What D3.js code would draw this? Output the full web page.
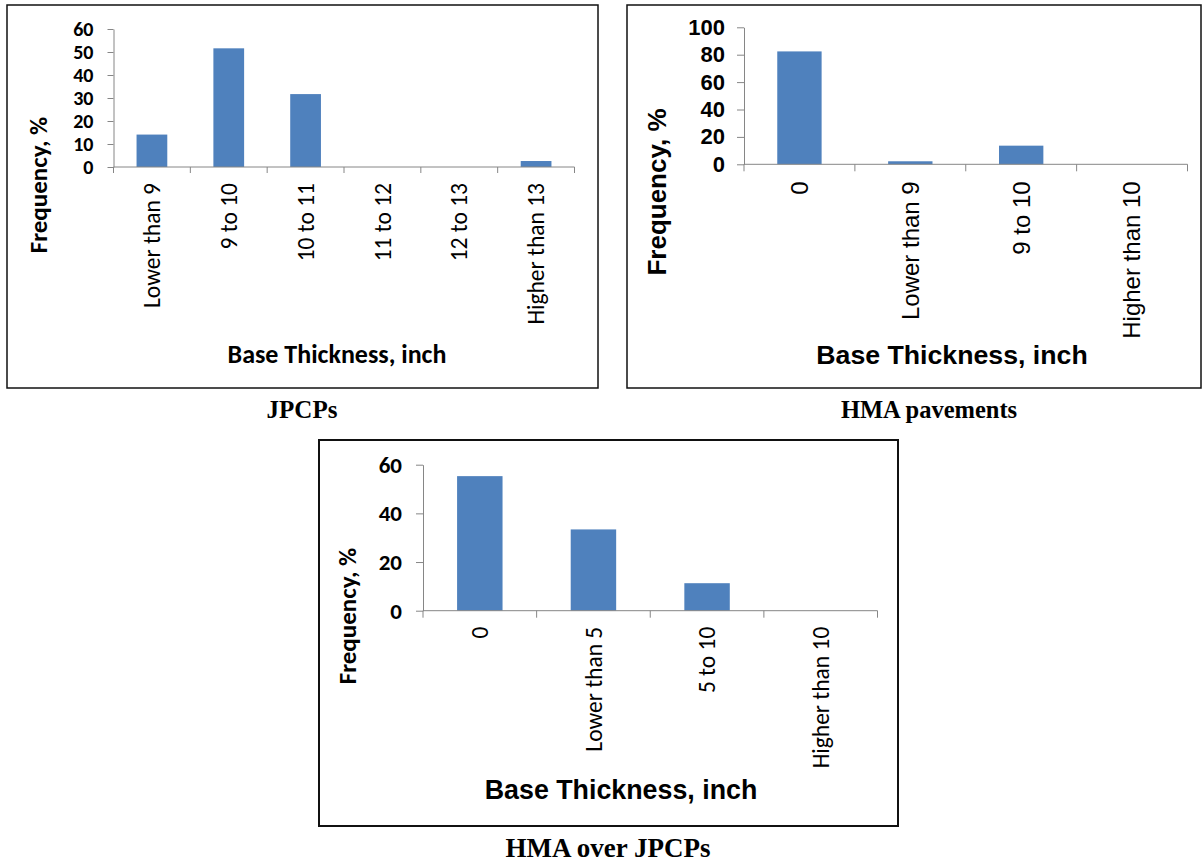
<!DOCTYPE html>
<html>
<head>
<meta charset="utf-8">
<script src="https://cdn.jsdelivr.net/npm/d3@7"></script>
<style>
  html, body { margin: 0; padding: 0; background: #fff; }
  svg { display: block; }
</style>
</head>
<body>
<svg id="fig" width="1203" height="862"></svg>
<script>
// Base thickness distributions for three pavement types
const jpcpCategories = ["Lower than 9", "9 to 10", "10 to 11", "11 to 12", "12 to 13", "Higher than 13"];
const jpcpFrequency = [14.1, 51.6, 31.7, 0, 0, 2.6];
const jpcpTicks = [0, 10, 20, 30, 40, 50, 60];

const hmaCategories = ["0", "Lower than 9", "9 to 10", "Higher than 10"];
const hmaFrequency = [82.4, 2.2, 13.6, 0];
const hmaTicks = [0, 20, 40, 60, 80, 100];

const overlayCategories = ["0", "Lower than 5", "5 to 10", "Higher than 10"];
const overlayFrequency = [55.3, 33.4, 11.3, 0];
const overlayTicks = [0, 20, 40, 60];

const captions = ["JPCPs", "HMA pavements", "HMA over JPCPs"];

const BAR = "#4F81BD";
const AXIS = "#868686";
const CALIBRI = "Carlito, Calibri, Lato, sans-serif";
const ARIAL = "'Liberation Sans', Arial, sans-serif";
const TIMES = "'Liberation Serif', 'Times New Roman', serif";

const svg = d3.select("#fig");

function drawPanel(cfg) {
  const g = svg.append("g");

  // frame around the chart
  g.append("rect")
    .attr("x", cfg.box[0]).attr("y", cfg.box[1])
    .attr("width", cfg.box[2] - cfg.box[0]).attr("height", cfg.box[3] - cfg.box[1])
    .attr("fill", "none").attr("stroke", "#111").attr("stroke-width", cfg.frameWidth);

  const x = d3.scaleBand()
    .domain(cfg.categories)
    .range(cfg.xRange)
    .paddingInner(0.6)
    .paddingOuter(0.3);

  const y = d3.scaleLinear()
    .domain([0, d3.max(cfg.ticks)])
    .range(cfg.yRange);

  // bars
  g.selectAll("rect.bar")
    .data(cfg.categories.map((c, i) => ({ c, v: cfg.values[i] })))
    .join("rect")
    .attr("class", "bar")
    .attr("x", d => x(d.c))
    .attr("width", x.bandwidth())
    .attr("y", d => y(d.v))
    .attr("height", d => y(0) - y(d.v))
    .attr("fill", BAR);

  // y axis
  const yAxis = g.append("g")
    .attr("transform", `translate(${cfg.xRange[0]},0)`)
    .call(d3.axisLeft(y).tickValues(cfg.ticks).tickSize(cfg.tickLen).tickSizeOuter(0).tickPadding(cfg.yPad));
  yAxis.select(".domain").attr("stroke", AXIS);
  yAxis.selectAll(".tick line").attr("stroke", AXIS);
  yAxis.selectAll(".tick text")
    .attr("fill", "#000")
    .style("font-family", cfg.tickFamily)
    .style("font-size", cfg.tickSize + "px")
    .style("font-weight", "bold");

  // x axis: category labels, rotated
  const xAxis = g.append("g")
    .attr("transform", `translate(0,${y(0)})`)
    .call(d3.axisBottom(x).tickSize(0).tickSizeOuter(0).tickPadding(0));
  xAxis.select(".domain").remove();
  xAxis.selectAll(".tick text")
    .attr("fill", "#000")
    .attr("transform", "rotate(-90)")
    .attr("x", -cfg.catGap)
    .attr("y", 0)
    .attr("dy", "0.35em")
    .attr("text-anchor", "end")
    .style("font-family", cfg.catFamily)
    .style("font-size", cfg.catSize + "px");

  // baseline and category boundary ticks
  g.append("line")
    .attr("x1", cfg.xRange[0]).attr("x2", cfg.xRange[1])
    .attr("y1", y(0)).attr("y2", y(0))
    .attr("stroke", AXIS);
  const bounds = d3.range(cfg.categories.length + 1).map(i => cfg.xRange[0] + i * x.step());
  g.selectAll("line.bound")
    .data(bounds)
    .join("line")
    .attr("class", "bound")
    .attr("x1", d => d).attr("x2", d => d)
    .attr("y1", y(0)).attr("y2", y(0) + cfg.tickLen)
    .attr("stroke", AXIS);

  // axis titles
  g.append("text")
    .attr("transform", `translate(${cfg.yTitle[0]},${cfg.yTitle[1]}) rotate(-90)`)
    .attr("text-anchor", "middle")
    .attr("dy", "0.35em")
    .style("font-family", cfg.yTitleFamily)
    .style("font-size", cfg.yTitleSize + "px")
    .style("font-weight", "bold")
    .text("Frequency, %");

  g.append("text")
    .attr("x", cfg.xTitle[0]).attr("y", cfg.xTitle[1])
    .attr("text-anchor", "middle")
    .style("font-family", cfg.xTitleFamily)
    .style("font-size", cfg.xTitleSize + "px")
    .style("font-weight", "bold")
    .text("Base Thickness, inch");

  // caption below the frame
  svg.append("text")
    .attr("x", cfg.caption[0]).attr("y", cfg.caption[1])
    .attr("text-anchor", "middle")
    .style("font-family", TIMES)
    .style("font-size", cfg.captionSize + "px")
    .style("font-weight", "bold")
    .text(cfg.captionText);
}

drawPanel({
  categories: jpcpCategories, values: jpcpFrequency, ticks: jpcpTicks,
  box: [7, 5, 598, 388], frameWidth: 1.5,
  xRange: [113.5, 574.5], yRange: [167, 29],
  tickLen: 6, yPad: 14, catGap: 16,
  tickFamily: CALIBRI, tickSize: 20,
  catFamily: CALIBRI, catSize: 23.5,
  yTitle: [38, 185], yTitleFamily: CALIBRI, yTitleSize: 25,
  xTitle: [337, 363], xTitleFamily: CALIBRI, xTitleSize: 26,
  caption: [302, 418], captionSize: 25, captionText: captions[0]
});

drawPanel({
  categories: hmaCategories, values: hmaFrequency, ticks: hmaTicks,
  box: [627, 5, 1201, 388], frameWidth: 1.5,
  xRange: [744, 1187.5], yRange: [164.3, 27.3],
  tickLen: 7, yPad: 12, catGap: 17,
  tickFamily: ARIAL, tickSize: 22,
  catFamily: ARIAL, catSize: 24,
  yTitle: [657, 192], yTitleFamily: ARIAL, yTitleSize: 26,
  xTitle: [952, 364], xTitleFamily: ARIAL, xTitleSize: 26.7,
  caption: [929, 418], captionSize: 24.5, captionText: captions[1]
});

drawPanel({
  categories: overlayCategories, values: overlayFrequency, ticks: overlayTicks,
  box: [319, 440, 898, 826], frameWidth: 2,
  xRange: [423, 877.5], yRange: [610.7, 464.7],
  tickLen: 7, yPad: 14, catGap: 16,
  tickFamily: CALIBRI, tickSize: 23,
  catFamily: CALIBRI, catSize: 23.5,
  yTitle: [347, 616], yTitleFamily: CALIBRI, yTitleSize: 25,
  xTitle: [621, 799], xTitleFamily: ARIAL, xTitleSize: 26.8,
  caption: [608, 857], captionSize: 27, captionText: captions[2]
});
</script>
</body>
</html>
